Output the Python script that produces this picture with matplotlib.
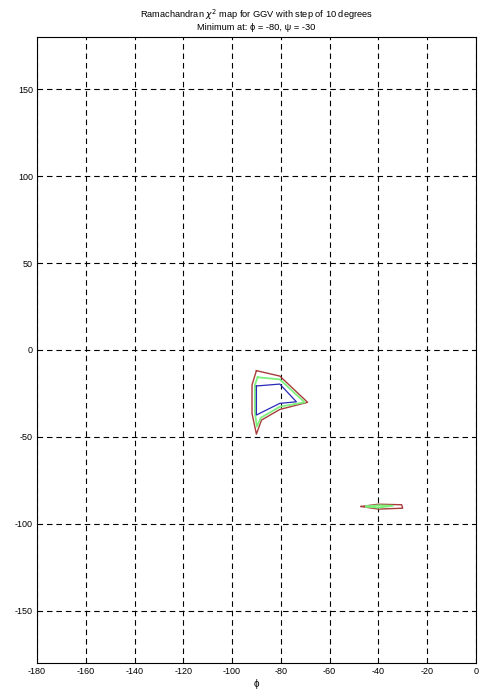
import matplotlib
matplotlib.use("Agg")
import matplotlib.pyplot as plt

plt.rcParams["font.family"] = ["Liberation Sans", "DejaVu Sans"]
plt.rcParams["axes.unicode_minus"] = False

# chi^2 contour levels around the minimum at (-80, -30)
outer_phi = [-90.0, -80.4, -69.0, -80.4, -87.9, -90.0, -91.8, -91.8, -90.0]
outer_psi = [-11.9, -15.0, -30.1, -34.2, -40.3, -48.4, -36.5, -20.1, -11.9]

mid_phi = [-89.5, -80.4, -70.2, -80.4, -88.2, -89.8, -90.6, -90.6, -89.5]
mid_psi = [-15.7, -16.9, -30.1, -32.6, -39.0, -44.1, -36.0, -20.0, -15.7]

inner_phi = [-90.0, -80.4, -73.6, -80.4, -90.0, -90.0]
inner_psi = [-20.7, -19.6, -29.8, -30.7, -37.4, -20.7]

# secondary region near (-40, -90)
outer2_phi = [-47.0, -40.0, -30.4, -30.0, -40.0, -47.0]
outer2_psi = [-90.0, -88.7, -89.0, -91.0, -91.5, -90.0]

mid2_phi = [-45.0, -40.0, -34.0, -40.0, -45.0]
mid2_psi = [-90.0, -89.3, -89.6, -90.7, -90.0]

xticks = list(range(-180, 1, 20))
yticks = [-150, -100, -50, 0, 50, 100, 150]

fig = plt.figure(figsize=(4.87, 6.94), dpi=100)
ax = fig.add_axes([0.076, 0.0447, 0.901, 0.902])

red = "#a83c3c"
green = "#7ef07e"
blue = "#2a2ab8"

ax.plot(outer_phi, outer_psi, color=red, lw=1.0)
ax.plot(mid_phi, mid_psi, color=green, lw=1.3)
ax.plot(inner_phi, inner_psi, color=blue, lw=0.9)
ax.plot(outer2_phi, outer2_psi, color=red, lw=1.0)
ax.plot(mid2_phi, mid2_psi, color=green, lw=1.3)

ax.set_xlim(-180, 0)
ax.set_ylim(-180, 180)
ax.set_xticks(xticks)
ax.set_yticks(yticks)
ax.tick_params(direction="in", length=3, width=0.6, labelsize=6.5, pad=3)
ax.grid(True, color="black", lw=0.8, linestyle=(0, (5, 3.5)))

for s in ax.spines.values():
    s.set_linewidth(0.8)

ax.set_xlabel("\u03d5", fontsize=7, labelpad=2)
ax.set_title("Ramachandran $\\chi^2$ map for GGV with step of 10 degrees\n"
             "Minimum at: \u03d5 = -80, \u03c8 = -30",
             fontsize=6.7, pad=5, linespacing=1.2)

plt.savefig("out.png", dpi=100)
